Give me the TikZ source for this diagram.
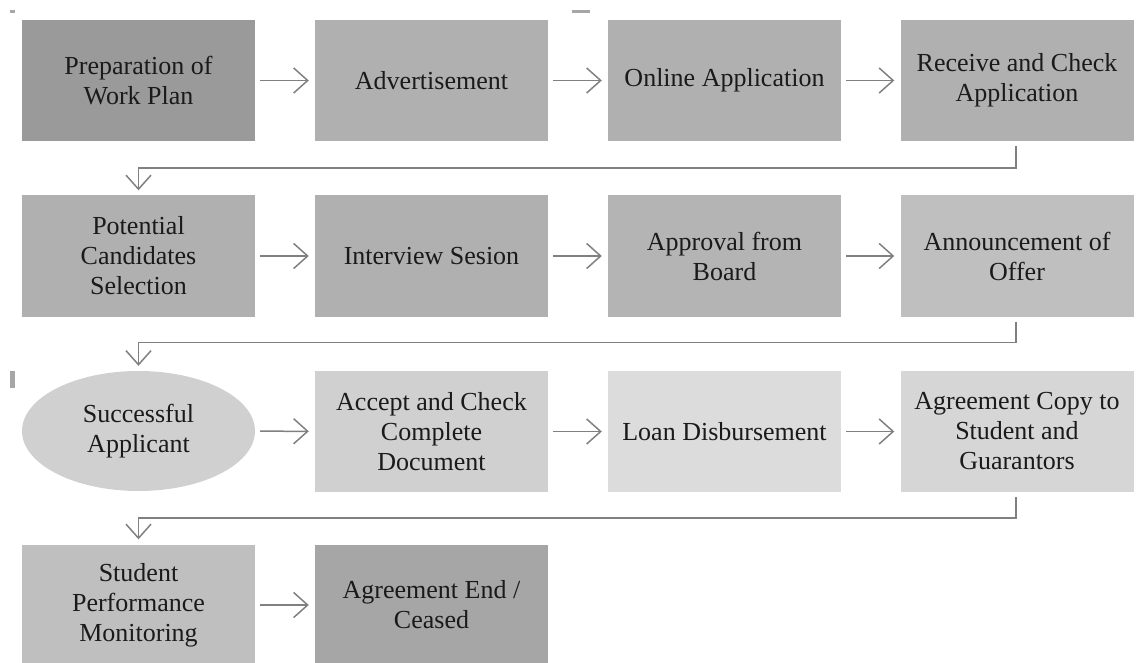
\documentclass[tikz,border=0pt]{standalone}
\usepackage{fontspec}
\setmainfont{Liberation Serif}
\usetikzlibrary{arrows.meta,shapes.geometric}
\definecolor{cA}{HTML}{9A9A9A}
\definecolor{cB}{HTML}{B0B0B0}
\definecolor{cC}{HTML}{BFBFBF}
\definecolor{cD}{HTML}{D0D0D0}
\definecolor{cE}{HTML}{DCDCDC}
\definecolor{cF}{HTML}{D6D6D6}
\definecolor{cG}{HTML}{A6A6A6}
\definecolor{cLine}{HTML}{808080}
\definecolor{cText}{HTML}{1A1A1A}
\begin{document}
\begin{tikzpicture}[x=1pt,y=-1pt,
  box/.style={rectangle, minimum width=233pt, minimum height=121pt, inner sep=2pt,
    align=center, font=\fontsize{26}{30}\selectfont, text=cText},
  oval/.style={ellipse, minimum width=233pt, minimum height=120pt, inner sep=0pt,
    align=center, font=\fontsize{26}{30}\selectfont, text=cText},
  conn/.style={draw=cLine, line width=1.5pt, line join=miter,
    -{Straight Barb[length=14pt,width=25pt,line width=1.5pt]}},
  hconn/.style={conn, shorten <=5pt, shorten >=6pt},
  tconn/.style={conn, shorten <=5pt, shorten >=5pt},
  straymark/.style={fill=black!35}
]
\useasboundingbox (0,0) rectangle (1141,663);
\clip (0,0) rectangle (1141,663);

% row 1
\node[box, fill=cA] (n1) at (138.5,80.5) {Preparation of\\Work Plan};
\node[box, fill=cB] (n2) at (431.5,80.5) {Advertisement};
\node[box, fill=cB] (n3) at (724.5,80.5) {Online Application};
\node[box, fill=cB] (n4) at (1017,80.5) {Receive and Check\\Application};
% row 2
\node[box, fill=cB] (n5) at (138.5,256) {Potential\\Candidates\\Selection};
\node[box, fill=cB] (n6) at (431.5,256) {Interview Sesion};
\node[box, fill=cB!95!white] (n7) at (724.5,256) {Approval from\\Board};
\node[box, fill=cC] (n8) at (1017,256) {Announcement of\\Offer};
% row 3
\node[oval, fill=cD] (n9) at (138.5,431) {Successful\\Applicant};
\node[box, fill=cD] (n10) at (431.5,431.5) {Accept and Check\\Complete\\Document};
\node[box, fill=cE] (n11) at (724.5,431.5) {Loan Disbursement};
\node[box, fill=cF] (n12) at (1017,431.5) {Agreement Copy to\\Student and\\Guarantors};
% row 4
\node[box, fill=cC] (n13) at (138.5,605) {Student\\Performance\\Monitoring};
\node[box, fill=cG] (n14) at (431.5,605) {Agreement End /\\Ceased};

% horizontal connectors
\draw[hconn] (n1) -- (n2);
\draw[hconn] (n2) -- (n3);
\draw[hconn] (n3) -- (n4);
\draw[hconn] (n5) -- (n6);
\draw[hconn] (n6) -- (n7);
\draw[hconn] (n7) -- (n8);
\draw[hconn] (n9) -- (n10);
\draw[hconn] (n10) -- (n11);
\draw[hconn] (n11) -- (n12);
\draw[hconn] (n13) -- (n14);

% turn connectors
\draw[tconn] ([xshift=-1pt]n4.south) -- ++(0,27) -| (n5.north);
\draw[tconn] ([xshift=-1pt]n8.south) -- ++(0,26) -| (n9.north);
\draw[tconn] ([xshift=-1pt]n12.south) -- ++(0,26) -| (n13.north);

% small stray marks
\fill[straymark] (10,10) rectangle (15,13);
\fill[straymark] (572,10) rectangle (590,13);
\fill[straymark] (10,371) rectangle (15,388);
\end{tikzpicture}
\end{document}
